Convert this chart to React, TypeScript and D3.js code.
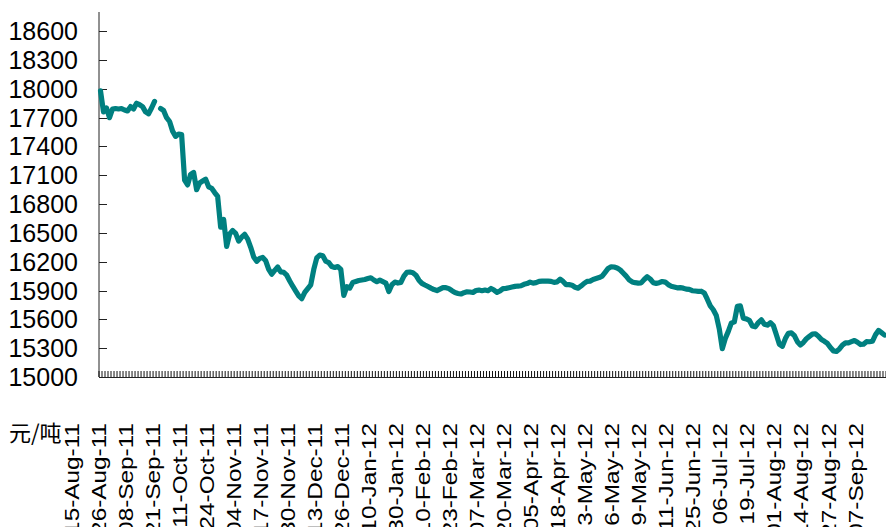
import React from "react";
import * as d3 from "d3";

const prices: (number | null)[] = [
  17980, 17760, 17800, 17700, 17790, 17795, 17790, 17795, 17780, 17770,
  17815, 17790, 17850, 17835, 17815, 17760, 17740, 17800, 17870, null,
  17795, 17775, 17700, 17660, 17560, 17505, 17530, 17525, 17050, 17000,
  17110, 17130, 16950, 17020, 17040, 17060, 16980, 16965, 16920, 16880,
  16560, 16640, 16360, 16490, 16525, 16495, 16415, 16455, 16485, 16435,
  16350, 16250, 16205, 16235, 16245, 16210, 16120, 16070, 16110, 16145,
  16095, 16090, 16060, 16000, 15945, 15895, 15845, 15815, 15880, 15920,
  15960, 16120, 16240, 16270, 16262, 16205, 16190, 16150, 16140, 16150,
  16120, 15850, 15940, 15925, 15985, 15995, 16005, 16010, 16015, 16025,
  16033, 16010, 15992, 16008, 15993, 15978, 15890, 15960, 15988, 15978,
  15985, 16050, 16090, 16093, 16085, 16060, 16008, 15975, 15958, 15942,
  15925, 15910, 15900, 15915, 15930, 15930, 15920, 15898, 15880, 15870,
  15864, 15878, 15887, 15885, 15880, 15900, 15905, 15898, 15905, 15898,
  15922, 15905, 15882, 15896, 15920, 15923, 15930, 15937, 15943, 15947,
  15950, 15965, 15973, 15988, 15977, 15982, 15995, 15998, 15998, 15998,
  15996, 15985, 15990, 16018, 15995, 15962, 15962, 15955, 15935, 15925,
  15948, 15975, 15995, 15998, 16015, 16025, 16035, 16050, 16090, 16130,
  16148, 16145, 16135, 16115, 16082, 16050, 16012, 15990, 15982, 15978,
  15980, 16015, 16044, 16020, 15982, 15975, 15982, 15994, 15988, 15962,
  15945, 15937, 15928, 15930, 15925, 15915, 15912, 15898, 15895, 15892,
  15893, 15875, 15810, 15740, 15700, 15640, 15500, 15295, 15400, 15475,
  15560, 15573, 15735, 15740, 15612, 15605, 15590, 15532, 15523, 15566,
  15595, 15550, 15540, 15566, 15535, 15440, 15340, 15320, 15400, 15455,
  15460, 15430, 15368, 15333, 15360, 15398, 15423, 15446, 15450, 15425,
  15390, 15372, 15350, 15306, 15272, 15266, 15292, 15332, 15355, 15355,
  15368, 15380, 15362, 15338, 15342, 15368, 15367, 15372, 15440, 15485,
  15462, 15437,
];

const dateLabels: string[] = [
  "15-Aug-11", "26-Aug-11", "08-Sep-11", "21-Sep-11", "11-Oct-11", "24-Oct-11",
  "04-Nov-11", "17-Nov-11", "30-Nov-11", "13-Dec-11", "26-Dec-11", "10-Jan-12",
  "30-Jan-12", "10-Feb-12", "23-Feb-12", "07-Mar-12", "20-Mar-12", "05-Apr-12",
  "18-Apr-12", "03-May-12", "16-May-12", "29-May-12", "11-Jun-12", "25-Jun-12",
  "06-Jul-12", "19-Jul-12", "01-Aug-12", "14-Aug-12", "27-Aug-12", "07-Sep-12",
];
const labelStep = 9;

const yTicks: number[] = [15000, 15300, 15600, 15900, 16200, 16500, 16800, 17100, 17400, 17700, 18000, 18300, 18600];
const yDomain: [number, number] = [15000, 18800];
const unitLabel = "元/吨";

export default function App() {
  const W = 886, H = 527;
  const left = 99, right = 886, top = 12, bottom = 377;
  const n = prices.length;
  const x = d3.scaleBand<number>().domain(d3.range(n)).range([left, right]).paddingInner(0).paddingOuter(0);
  const bw = x.bandwidth();
  const cx = (i: number) => (x(i) as number) + bw / 2;
  const y = d3.scaleLinear().domain(yDomain).range([bottom, top]);

  const line = d3
    .line<number | null>()
    .defined((d) => d != null)
    .x((_, i) => cx(i))
    .y((d) => y(d as number));

  const tickXs = d3.range(n + 1).map((i) => left + i * bw);

  return (
    <svg width={W} height={H} style={{ position: "absolute", left: 0, top: 0, background: "#fff" }}>
      <rect x={0} y={0} width={W} height={H} fill="#fff" />
      {/* y axis */}
      <line x1={left} x2={left} y1={top} y2={bottom} stroke="#222" strokeWidth={1} />
      {yTicks.map((t) => (
        <g key={t}>
          <line x1={left} x2={left + 8} y1={Math.round(y(t)) + 0.5} y2={Math.round(y(t)) + 0.5} stroke="#222" strokeWidth={1} />
          <text
            x={78}
            y={y(t)}
            dy="0.36em"
            textAnchor="end"
            fontFamily="'Liberation Sans', Arial, sans-serif"
            fontSize={25}
            fill="#000"
          >
            {t}
          </text>
        </g>
      ))}
      {/* x axis */}
      <line x1={left} x2={right} y1={bottom + 0.5} y2={bottom + 0.5} stroke="#222" strokeWidth={1} />
      {tickXs.map((tx, i) => (
        <line key={i} x1={tx} x2={tx} y1={bottom - 6} y2={bottom} stroke="#111" strokeWidth={1} />
      ))}
      {dateLabels.map((lab, k) => {
        const lx = cx(k * labelStep) - 29.5;
        return (
          <text
            key={lab}
            transform={`translate(${lx},423) rotate(-90) scale(1.16,1)`}
            dy="0.36em"
            textAnchor="end"
            fontFamily="'Liberation Sans', Arial, sans-serif"
            fontSize={21}
            fill="#000"
          >
            {lab}
          </text>
        );
      })}
      <text x={9} y={441} fontFamily="'Noto Sans CJK SC', sans-serif" fontSize={22} fill="#000">
        {unitLabel}
      </text>
      {/* line */}
      <path
        d={line(prices) || ""}
        fill="none"
        stroke="#008080"
        strokeWidth={5.2}
        strokeLinejoin="round"
        strokeLinecap="round"
      />
    </svg>
  );
}
